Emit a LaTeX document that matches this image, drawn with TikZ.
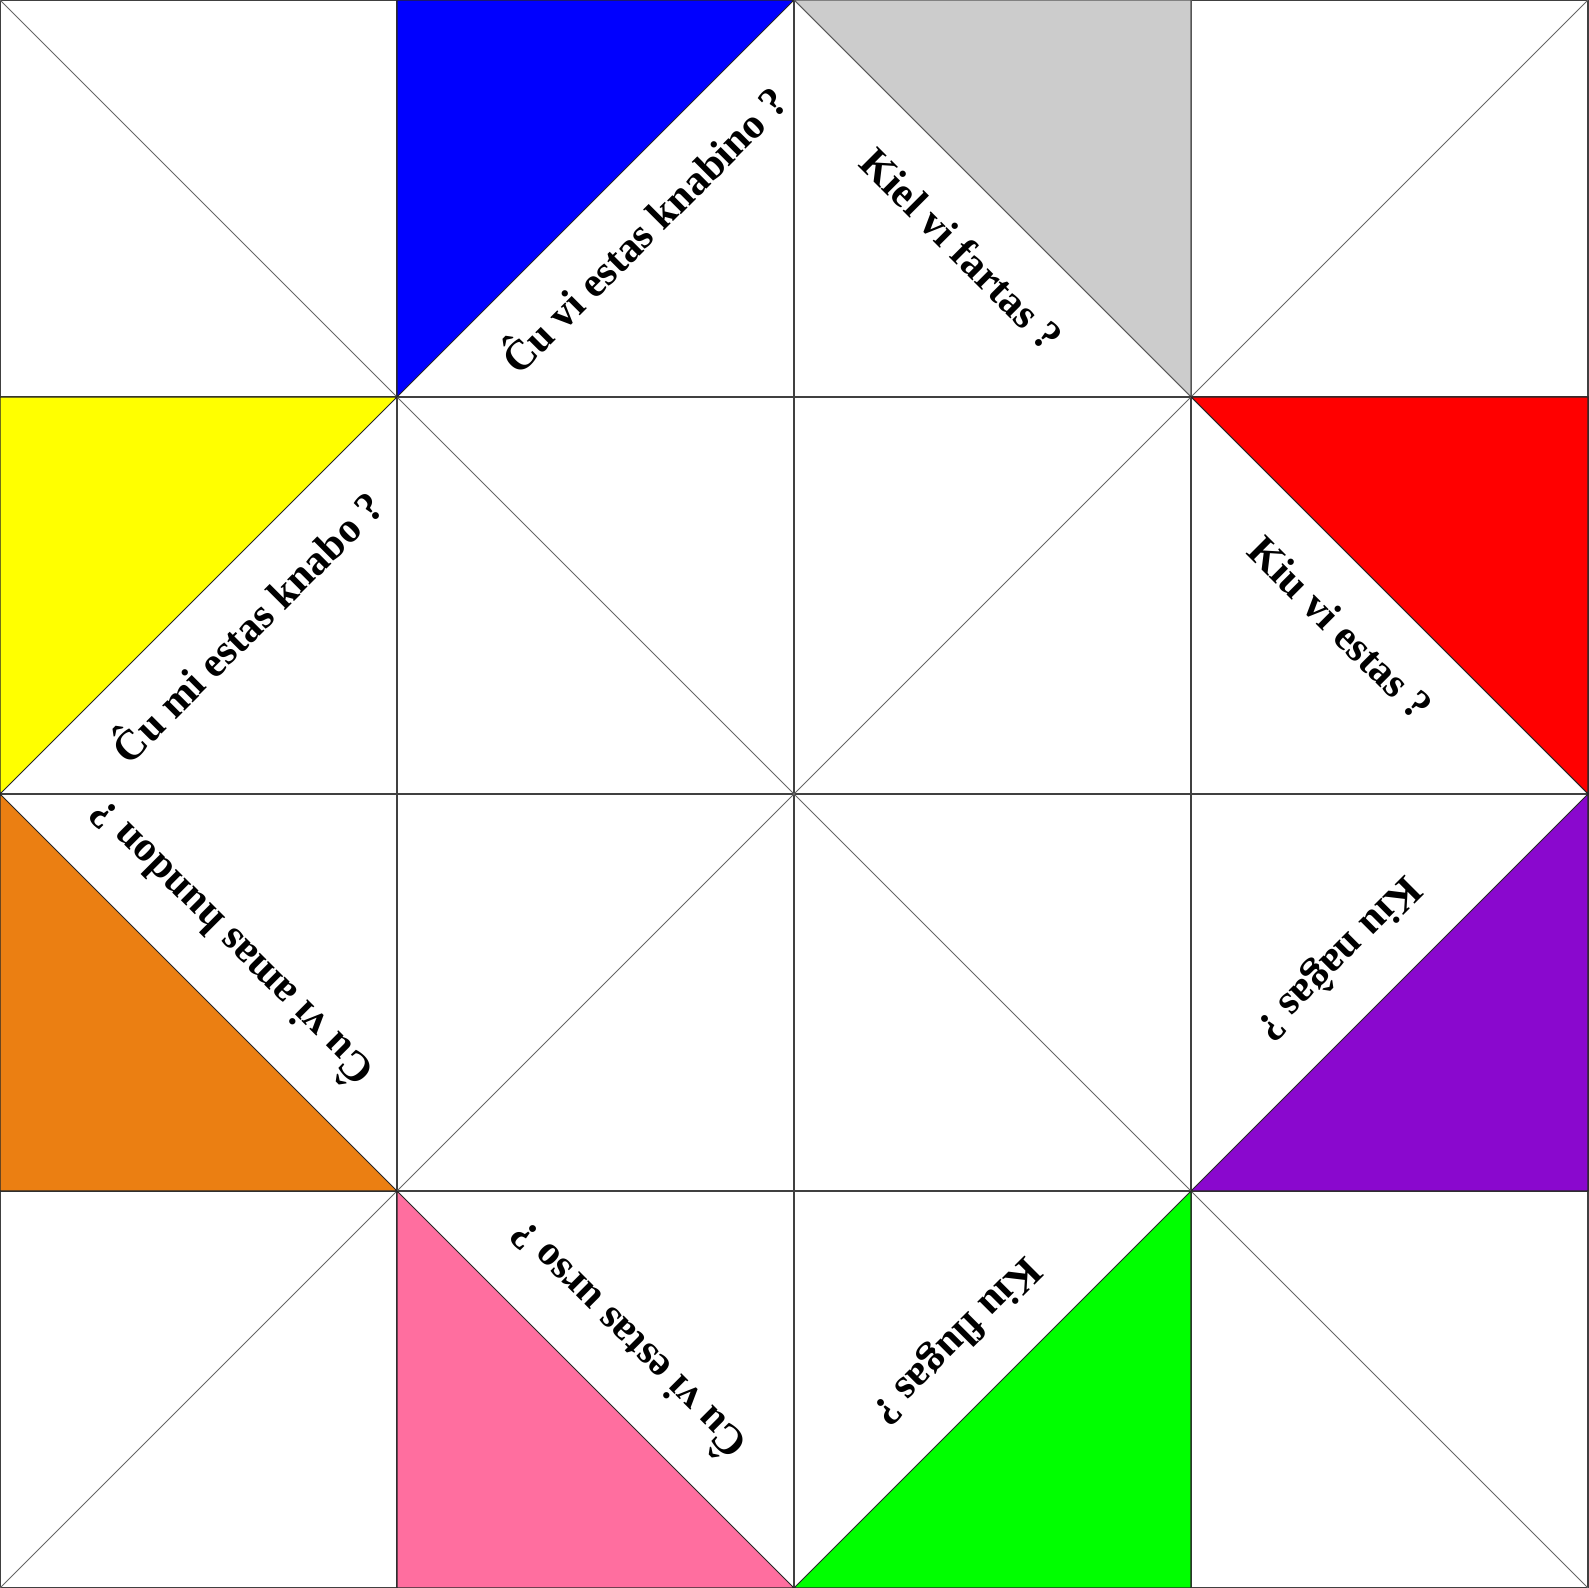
\documentclass[tikz,border=0pt]{standalone}
\usepackage{fontspec}
\setmainfont{Liberation Serif}
\usetikzlibrary{calc}
\definecolor{cblue}{HTML}{0000FF}
\definecolor{cgray}{HTML}{CCCCCC}
\definecolor{cyellow}{HTML}{FFFF00}
\definecolor{cred}{HTML}{FF0000}
\definecolor{corange}{HTML}{EB7F12}
\definecolor{cpurple}{HTML}{8A08CE}
\definecolor{cpink}{HTML}{FF6E9F}
\definecolor{cgreen}{HTML}{00FF00}
\begin{document}
\begin{tikzpicture}[x=0.1mm,y=0.1mm,
  gridline/.style={draw=black!75, line width=0.3pt},
  diag/.style={draw=black!60, line width=0.25pt},
  tri/.style={draw=black!85, line width=0.3pt},
  question/.style={font=\bfseries\fontsize{12}{14}\selectfont, inner sep=0pt, anchor=base}]
\useasboundingbox (0,0) rectangle (1588,1588);
\fill[white] (0,0) rectangle (1588,1588);
\foreach \i in {0,...,4} \foreach \j in {0,...,4}
  \coordinate (p\i\j) at ({397*\i},{1588-397*\j});
% grid
\foreach \k in {0,...,4} {
  \draw[gridline] (p\k0) -- (p\k4);
  \draw[gridline] (p0\k) -- (p4\k);
}
% plain diagonals
\draw[diag] (p00) -- (p11);
\draw[diag] (p31) -- (p40);
\draw[diag] (p11) -- (p22);
\draw[diag] (p22) -- (p31);
\draw[diag] (p13) -- (p22);
\draw[diag] (p22) -- (p33);
\draw[diag] (p04) -- (p13);
\draw[diag] (p33) -- (p44);
% coloured triangles
\filldraw[tri, fill=cblue] (p10) -- (p20) -- (p11) -- cycle;
\filldraw[tri, draw=black!65, fill=cgray] (p20) -- (p30) -- (p31) -- cycle;
\filldraw[tri, fill=cyellow] (p01) -- (p11) -- (p02) -- cycle;
\filldraw[tri, fill=cred] (p31) -- (p41) -- (p42) -- cycle;
\filldraw[tri, fill=corange] (p02) -- (p03) -- (p13) -- cycle;
\filldraw[tri, fill=cpurple] (p42) -- (p43) -- (p33) -- cycle;
\filldraw[tri, fill=cpink] (p13) -- (p14) -- (p24) -- cycle;
\filldraw[tri, fill=cgreen] (p33) -- (p34) -- (p24) -- cycle;
% questions
\node[question, rotate=45] (qblue) at ($(p10)!0.5!(p21)+(45:12)+(-45:72)$) {Ĉu vi estas knabino ?};
\node[question, rotate=-45] (qgray) at ($(p20)!0.5!(p31)+(-45:14)+(-135:72)$) {Kiel vi fartas ?};
\node[question, rotate=45] (qyellow) at ($(p01)!0.5!(p12)+(45:12)+(-45:72)$) {Ĉu mi estas knabo ?};
\node[question, rotate=-45] (qred) at ($(p31)!0.5!(p42)+(-45:-12)+(-135:72)$) {Kiu vi estas ?};
\node[question, rotate=135] (qorange) at ($(p02)!0.5!(p13)+(135:12)+(45:72)$) {Ĉu vi amas hundon ?};
\node[question, rotate=225] (qpurple) at ($(p32)!0.5!(p43)+(225:12)+(135:72)$) {Kiu naĝas ?};
\node[question, rotate=135] (qpink) at ($(p13)!0.5!(p24)+(135:12)+(45:72)$) {Ĉu vi estas urso ?};
\node[question, rotate=225] (qgreen) at ($(p23)!0.5!(p34)+(225:-9)+(135:72)$) {Kiu flugas ?};
\end{tikzpicture}
\end{document}
